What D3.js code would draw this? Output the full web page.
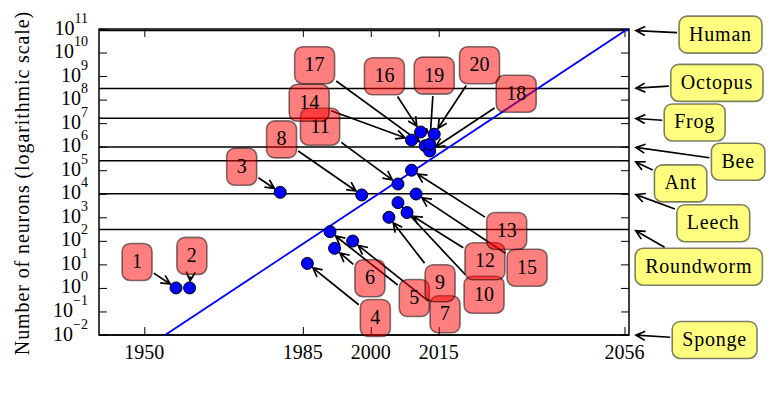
<!DOCTYPE html>
<html>
<head>
<meta charset="utf-8">
<script src="https://cdn.jsdelivr.net/npm/d3@7"></script>
<style>
body { margin: 0; background: white; }
text { font-family: "Liberation Serif", "Times New Roman", serif; fill: black; }
</style>
</head>
<body>
<div id="chart"></div>
<script>
// artificial networks, numbered as in the figure
const netIds = ["1","2","3","4","5","6","7","8","9","10","11","12","13","14","15","16","17","18","19","20"]
const netYears = [1957, 1960, 1980, 1986, 1991, 1992, 1996, 1998, 2004, 2006, 2006, 2008, 2009, 2009, 2010, 2011, 2012, 2013, 2013, 2014]
const netNeurons = [1, 1, 11500, 11, 245, 48, 98, 8900, 1000, 4200, 26000, 1600, 100000, 1900000, 9800, 4200000, 1100000, 660000, 1260000, 3400000]
// where each number box sits (year, log10 neurons)
const netLabelYears = [1948.4, 1960.5, 1971.5, 2001.0, 2009.6, 1999.8, 2016.4, 1980.3, 2015.3, 2025.0, 1988.8, 2025.2, 2030.0, 1986.4, 2034.5, 2003.0, 1987.6, 2032.1, 2014.0, 2024.0]
const netLabelExps = [1.10, 1.36, 5.15, -1.28, -0.43, 0.41, -1.12, 6.31, 0.20, -0.29, 6.85, 1.13, 2.42, 7.865, 0.86, 8.99, 9.46, 8.25, 9.02, 9.46]

// biological reference lines
const animals = ["Human", "Octopus", "Frog", "Bee", "Ant", "Leech", "Roundworm", "Sponge"]
const animalNeurons = [8.6e10, 3e8, 1.6e7, 9.6e5, 2.5e5, 1e4, 302, 0]
const animalLabelYears = [2077.2, 2076.4, 2071.5, 2081.1, 2068.4, 2075.6, 2072.4, 2075.9]
const animalLabelExps = [10.76, 8.71, 7.03, 5.36, 4.44, 2.75, 0.90, -2.21]

// trend line
const trendYears = [1954.6, 2056.7]
const trendNeurons = [1e-2, 1e11]

const yearTicks = [1950, 1985, 2000, 2015, 2056]
const decadeExps = [-2, -1, 0, 1, 2, 3, 4, 5, 6, 7, 8, 9, 10, 11]

const serif = '"Liberation Serif", "Times New Roman", serif'

const svg = d3.select("#chart").append("svg")
    .attr("width", 772)
    .attr("height", 394)

const x = d3.scaleLinear().domain([1940, 2057]).range([99, 629])
const y = d3.scaleLog().domain([1e-2, 1e11]).range([335, 29])
const yv = v => v > 0 ? y(v) : y.range()[0]

// ticks, pointing inward on all four sides
const tickLen = 8
svg.append("g").attr("transform", "translate(0,335)")
    .call(d3.axisBottom(x).tickValues(yearTicks).tickSizeInner(-tickLen).tickSizeOuter(0).tickFormat(""))
svg.append("g").attr("transform", "translate(0,29)")
    .call(d3.axisTop(x).tickValues(yearTicks).tickSizeInner(-tickLen).tickSizeOuter(0).tickFormat(""))
svg.append("g").attr("transform", "translate(99,0)")
    .call(d3.axisLeft(y).tickValues(decadeExps.map(e => Math.pow(10, e))).tickSizeInner(-tickLen).tickSizeOuter(0).tickFormat(""))
svg.append("g").attr("transform", "translate(629,0)")
    .call(d3.axisRight(y).tickValues(decadeExps.map(e => Math.pow(10, e))).tickSizeInner(-tickLen).tickSizeOuter(0).tickFormat(""))
svg.selectAll(".domain").remove()
svg.selectAll(".tick line").attr("stroke", "black").attr("stroke-width", 1)

// tick labels
svg.selectAll(".xlab").data(yearTicks).join("text")
    .attr("class", "xlab")
    .attr("x", d => x(d))
    .attr("y", 359)
    .attr("text-anchor", "middle")
    .attr("font-family", serif)
    .style("font-size", "20px")
    .text(d => d)

const ylab = svg.selectAll(".ylab").data(decadeExps).join("text")
    .attr("class", "ylab")
    .attr("x", 88)
    .attr("y", d => y(Math.pow(10, d)) + 5.5)
    .attr("text-anchor", "end")
    .attr("font-family", serif)
    .style("font-size", "20px")
ylab.append("tspan").text("10")
ylab.append("tspan").attr("dy", -12).style("font-size", "14px")
    .text(d => d < 0 ? "\u2212" + (-d) : d)

svg.append("text")
    .attr("transform", "translate(29,183) rotate(-90)")
    .attr("text-anchor", "middle")
    .attr("font-family", serif)
    .style("font-size", "20px")
    .style("letter-spacing", "0.9px")
    .text("Number of neurons (logarithmic scale)")

// animal lines
svg.selectAll(".bio").data(animalNeurons).join("line")
    .attr("class", "bio")
    .attr("x1", 99).attr("x2", 629)
    .attr("y1", d => yv(d)).attr("y2", d => yv(d))
    .attr("stroke", "black")
    .attr("stroke-width", 1.5)

// frame
svg.append("rect")
    .attr("x", 99).attr("y", 29)
    .attr("width", 530).attr("height", 306)
    .attr("fill", "none")
    .attr("stroke", "black")
    .attr("stroke-width", 1.5)

svg.append("path")
    .datum(trendYears.map((d, i) => [d, trendNeurons[i]]))
    .attr("d", d3.line().x(d => x(d[0])).y(d => y(d[1])))
    .attr("fill", "none")
    .attr("stroke", "#0000ff")
    .attr("stroke-width", 1.8)

const arrowLayer = svg.append("g")
const pointLayer = svg.append("g")
const boxLayer = svg.append("g")

// arrow from the edge of a box (centre cx,cy, half sizes hw,hh) to tx,ty
function drawArrow(cx, cy, hw, hh, tx, ty, shrinkB) {
    let dx = tx - cx, dy = ty - cy
    let len = Math.hypot(dx, dy)
    let ux = dx / len, uy = dy / len
    let t = Math.min(hw / Math.max(Math.abs(dx), 1e-6), hh / Math.max(Math.abs(dy), 1e-6))
    let sx = cx + dx * t + ux * 2, sy = cy + dy * t + uy * 2
    let ex = tx - ux * shrinkB, ey = ty - uy * shrinkB
    let bx = ex - ux * 9, by = ey - uy * 9
    let px = -uy * 4.5, py = ux * 4.5
    arrowLayer.append("path")
        .attr("d", `M${sx},${sy}L${ex},${ey}M${bx + px},${by + py}L${ex},${ey}L${bx - px},${by - py}`)
        .attr("fill", "none")
        .attr("stroke", "black")
        .attr("stroke-width", 1.7)
}

function drawBox(cx, cy, label, color, spacing) {
    let g = boxLayer.append("g")
    let rect = g.append("rect")
    let t = g.append("text")
        .attr("x", cx).attr("y", cy + 6)
        .attr("text-anchor", "middle")
        .attr("font-family", serif)
        .style("font-size", "20px")
        .style("letter-spacing", spacing)
        .text(label)
    let w = t.node().getComputedTextLength() + 20
    let h = 37
    rect.attr("x", cx - w / 2).attr("y", cy - h / 2)
        .attr("width", w).attr("height", h)
        .attr("rx", 8)
        .attr("fill", color).attr("fill-opacity", 0.5)
        .attr("stroke", "black").attr("stroke-opacity", 0.5)
        .attr("stroke-width", 1.6)
    return [w / 2, h / 2]
}

netIds.forEach((id, i) => {
    let cx = x(netLabelYears[i]), cy = y(Math.pow(10, netLabelExps[i]))
    let half = drawBox(cx, cy, id, "red", "0px")
    drawArrow(cx, cy, half[0], half[1], x(netYears[i]), y(netNeurons[i]), 7)
})

animals.forEach((name, i) => {
    let cx = x(animalLabelYears[i]), cy = y(Math.pow(10, animalLabelExps[i]))
    let half = drawBox(cx, cy, name, "yellow", "0.8px")
    drawArrow(cx, cy, half[0], half[1], x(2058), yv(animalNeurons[i]), 2.5)
})

pointLayer.selectAll("circle").data(netYears).join("circle")
    .attr("cx", d => x(d))
    .attr("cy", (d, i) => y(netNeurons[i]))
    .attr("r", 6)
    .attr("fill", "#0000ff")
    .attr("stroke", "black")
    .attr("stroke-width", 1)
</script>
</body>
</html>
